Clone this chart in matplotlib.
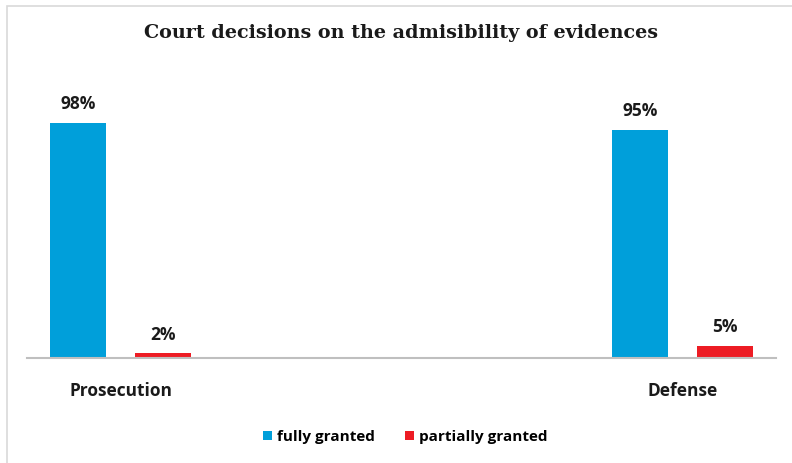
import matplotlib.pyplot as plt
import numpy as np
from matplotlib.patches import Rectangle

categories = ["Prosecution", "Defense"]
series_names = ["fully granted", "partially granted"]
fully = [98, 95]
partially = [2, 5]

colors = ["#009fda", "#ed1c24"]
label_font = "Open Sans"

fig = plt.figure(figsize=(7.92, 4.63), dpi=100)
W, H = 792, 463

# light frame of the chart area (left and top edges visible)
fig.patches.append(Rectangle((7 / W, -0.1), 1.2, (H - 6) / H + 0.1,
                             transform=fig.transFigure, fill=False,
                             edgecolor="#d9d9d9", linewidth=1.2))

ax = fig.add_axes([27 / W, (H - 358) / H, (776 - 27) / W, 240 / H])
x = np.arange(len(categories))
width = 0.1
offset = 0.0758

for vals, off, col, name in [(fully, -offset, colors[0], series_names[0]),
                             (partially, offset, colors[1], series_names[1])]:
    bars = ax.bar(x + off, vals, width, color=col, label=name, zorder=2)
    for b, v in zip(bars, vals):
        ax.text(b.get_x() + b.get_width() / 2, v + 4, f"{v}%",
                ha="center", va="bottom", fontsize=12.5, fontweight="bold",
                family=label_font, color="#1a1a1a")

ax.set_xlim(-0.1667, 1.1667)
ax.set_ylim(0, 100)
ax.set_yticks([])
ax.set_xticks(x)
ax.set_xticklabels(categories, fontsize=12.5, fontweight="bold", family=label_font,
                   color="#1a1a1a")
ax.tick_params(axis="x", length=0, pad=17)
for s in ["top", "right", "left"]:
    ax.spines[s].set_visible(False)
ax.spines["bottom"].set_color("#bfbfbf")
ax.spines["bottom"].set_linewidth(1.5)
ax.spines["bottom"].set_zorder(3)

fig.text(401 / W, 1 - 33 / H, "Court decisions on the admisibility of evidences",
         ha="center", va="center", fontsize=13.8, fontweight="bold",
         family="DejaVu Serif", color="#1a1a1a")

leg = fig.legend(loc="center", bbox_to_anchor=(405 / W, 1 - 437 / H), ncol=2,
                 frameon=False, handlelength=0.6, handleheight=0.6,
                 handletextpad=0.3, columnspacing=2.0,
                 prop={"family": label_font, "weight": "bold", "size": 11})

fig.savefig("out.png", dpi=100)
